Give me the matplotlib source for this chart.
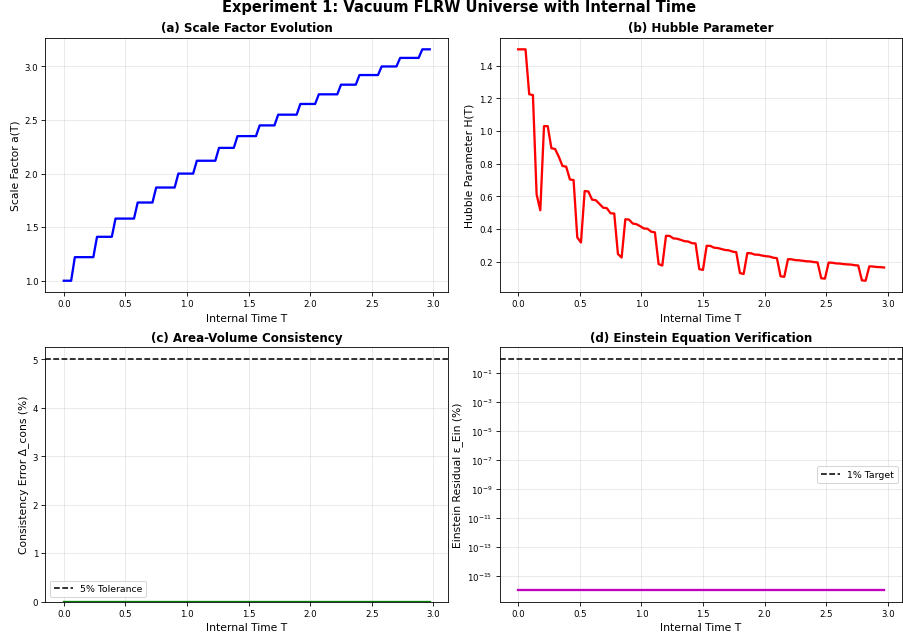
import numpy as np
import matplotlib
matplotlib.use("Agg")
import matplotlib.pyplot as plt

# internal time samples (dt = 0.03)
T = np.round(np.arange(100) * 0.03, 2)

# scale factor: step levels and number of samples spent on each level
a_levels = [1.0, 1.22, 1.41, 1.58, 1.73, 1.87, 2.0, 2.12, 2.24, 2.35,
            2.45, 2.55, 2.65, 2.74, 2.83, 2.92, 3.0, 3.08, 3.16]
a_counts = [3, 6, 5, 6, 5, 6, 5, 6, 5, 6, 5, 6, 5, 6, 5, 6, 5, 6, 3]
a_T = np.repeat(a_levels, a_counts)

# Hubble parameter read per sample
H_T = [1.500, 1.500, 1.500, 1.225, 1.220, 0.612, 0.515, 1.030, 1.030, 0.895,
       0.890, 0.843, 0.786, 0.782, 0.704, 0.700, 0.349, 0.318, 0.633, 0.630,
       0.580, 0.577, 0.554, 0.531, 0.528, 0.497, 0.495, 0.247, 0.226, 0.460,
       0.458, 0.434, 0.430, 0.418, 0.404, 0.402, 0.384, 0.380, 0.186, 0.177,
       0.359, 0.358, 0.343, 0.341, 0.334, 0.326, 0.324, 0.314, 0.312, 0.155,
       0.150, 0.298, 0.297, 0.286, 0.284, 0.278, 0.272, 0.270, 0.262, 0.259,
       0.131, 0.125, 0.253, 0.252, 0.244, 0.243, 0.238, 0.234, 0.232, 0.225,
       0.222, 0.111, 0.108, 0.216, 0.215, 0.210, 0.209, 0.206, 0.203, 0.202,
       0.198, 0.196, 0.099, 0.097, 0.195, 0.194, 0.190, 0.189, 0.186, 0.184,
       0.183, 0.179, 0.177, 0.086, 0.084, 0.172, 0.171, 0.168, 0.167, 0.165]

delta_cons = [0.0] * 100
eps_ein = [1.1e-16] * 100

tolerance = 5.0
target = 1.0

lab_fs = 10.3
title_fs = 11.4
plt.rcParams["xtick.labelsize"] = 8.3
plt.rcParams["ytick.labelsize"] = 8.3

fig, axes = plt.subplots(2, 2, figsize=(12.05, 8.53), dpi=75)
fig.subplots_adjust(left=0.0503, right=0.9985, bottom=0.0583, top=0.9398,
                    wspace=0.1287, hspace=0.2156)
fig.suptitle("Experiment 1: Vacuum FLRW Universe with Internal Time",
             fontsize=14, fontweight="bold", x=0.508, y=0.9875, va="center")

ax = axes[0, 0]
ax.plot(T, a_T, "b-", linewidth=2.2)
ax.set_xlabel("Internal Time T", fontsize=lab_fs)
ax.set_ylabel("Scale Factor a(T)", fontsize=lab_fs)
ax.set_title("(a) Scale Factor Evolution", fontsize=title_fs, fontweight="bold")
ax.grid(True, alpha=0.3)

ax = axes[0, 1]
ax.plot(T, H_T, "r-", linewidth=2.2)
ax.set_xlabel("Internal Time T", fontsize=lab_fs)
ax.set_ylabel("Hubble Parameter H(T)", fontsize=lab_fs)
ax.set_title("(b) Hubble Parameter", fontsize=title_fs, fontweight="bold")
ax.grid(True, alpha=0.3)

ax = axes[1, 0]
ax.plot(T, delta_cons, "g-", linewidth=2.2)
ax.axhline(y=tolerance, color="k", linestyle="--", label="5% Tolerance")
ax.set_xlabel("Internal Time T", fontsize=lab_fs)
ax.set_ylabel("Consistency Error Δ_cons (%)", fontsize=lab_fs)
ax.set_title("(c) Area-Volume Consistency", fontsize=title_fs, fontweight="bold")
ax.set_ylim(bottom=0)
ax.legend(fontsize=9)
ax.grid(True, alpha=0.3)

ax = axes[1, 1]
ax.semilogy(T, eps_ein, "m-", linewidth=2.2)
ax.axhline(y=target, color="k", linestyle="--", label="1% Target")
ax.set_xlabel("Internal Time T", fontsize=lab_fs)
ax.set_ylabel("Einstein Residual ε_Ein (%)", fontsize=lab_fs)
ax.set_title("(d) Einstein Equation Verification", fontsize=title_fs, fontweight="bold")
ax.legend(fontsize=9)
ax.grid(True, alpha=0.3)

plt.savefig("out.png", dpi=75)
